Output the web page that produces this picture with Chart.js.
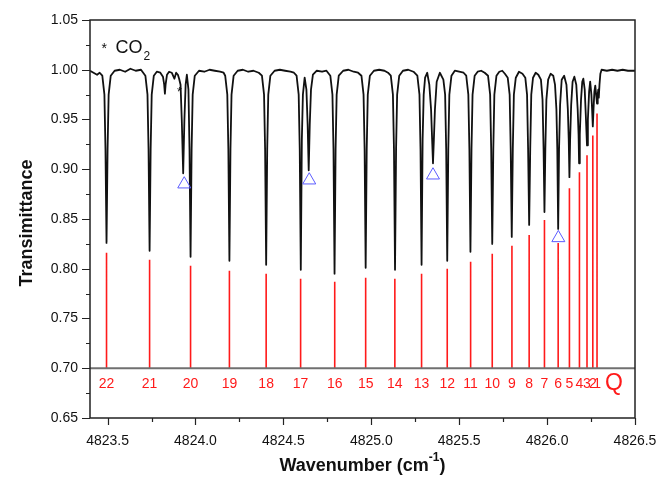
<!DOCTYPE html>
<html lang="en">
<head>
<meta charset="UTF-8">
<title>Transimittance spectrum</title>
<script src="https://cdn.jsdelivr.net/npm/chart.js@4.4.0/dist/chart.umd.min.js"></script>
<style>
  html, body { margin: 0; padding: 0; background: #fff; }
  #wrap { width: 661px; height: 483px; }
</style>
</head>
<body>
<div id="wrap"><canvas id="spec"></canvas></div>
<script>
var specX = [
  4823.400, 4823.420, 4823.440, 4823.455,
  4823.470, 4823.482, 4823.488, 4823.494, 4823.500, 4823.506, 4823.518,
  4823.540, 4823.570, 4823.600, 4823.630, 4823.660, 4823.690,
  4823.715, 4823.727, 4823.733, 4823.739, 4823.745, 4823.751, 4823.763,
  4823.780, 4823.800,
  4823.815, 4823.822, 4823.826, 4823.830, 4823.838,
  4823.850, 4823.865, 4823.880, 4823.890, 4823.900, 4823.907,
  4823.915, 4823.922, 4823.930, 4823.937, 4823.944, 4823.951,
  4823.960, 4823.966, 4823.972, 4823.978, 4823.984, 4823.996,
  4824.020, 4824.050, 4824.080, 4824.110, 4824.140, 4824.160,
  4824.169, 4824.181, 4824.187, 4824.193, 4824.199, 4824.205, 4824.217,
  4824.240, 4824.270, 4824.300, 4824.330, 4824.360,
  4824.378, 4824.390, 4824.396, 4824.402, 4824.408, 4824.414, 4824.426,
  4824.450, 4824.480, 4824.510, 4824.540, 4824.560,
  4824.575, 4824.587, 4824.593, 4824.599, 4824.605, 4824.611, 4824.621,
  4824.631, 4824.638, 4824.644, 4824.650, 4824.657, 4824.668,
  4824.690, 4824.720, 4824.745,
  4824.767, 4824.779, 4824.785, 4824.791, 4824.797, 4824.803, 4824.815,
  4824.840, 4824.870, 4824.900, 4824.925,
  4824.944, 4824.956, 4824.962, 4824.968, 4824.974, 4824.980, 4824.992,
  4825.015, 4825.045, 4825.075, 4825.095,
  4825.111, 4825.123, 4825.129, 4825.135, 4825.141, 4825.147, 4825.159,
  4825.180, 4825.210, 4825.240,
  4825.262, 4825.274, 4825.280, 4825.286, 4825.292, 4825.298, 4825.306,
  4825.318, 4825.330, 4825.340, 4825.346, 4825.351, 4825.356, 4825.362, 4825.372,
  4825.390, 4825.410, 4825.420, 4825.426, 4825.432, 4825.438, 4825.444, 4825.456,
  4825.475, 4825.500, 4825.525,
  4825.540, 4825.552, 4825.558, 4825.564, 4825.570, 4825.576, 4825.588,
  4825.605, 4825.625, 4825.645,
  4825.664, 4825.676, 4825.682, 4825.688, 4825.694, 4825.700, 4825.712,
  4825.728, 4825.745, 4825.760,
  4825.776, 4825.787, 4825.793, 4825.799, 4825.805, 4825.811, 4825.822,
  4825.840, 4825.860,
  4825.876, 4825.886, 4825.892, 4825.898, 4825.904, 4825.910, 4825.920,
  4825.935, 4825.950,
  4825.965, 4825.974, 4825.980, 4825.985, 4825.990, 4825.996, 4826.006,
  4826.020, 4826.035,
  4826.045, 4826.053, 4826.058, 4826.063, 4826.068, 4826.074, 4826.083,
  4826.097,
  4826.110, 4826.118, 4826.123, 4826.127, 4826.131, 4826.137, 4826.145,
  4826.155,
  4826.166, 4826.174, 4826.179, 4826.182, 4826.186, 4826.193, 4826.200,
  4826.206,
  4826.214, 4826.220, 4826.227, 4826.232, 4826.239,
  4826.245,
  4826.252, 4826.256, 4826.260, 4826.264, 4826.269,
  4826.274,
  4826.279, 4826.284, 4826.288, 4826.291, 4826.294, 4826.298, 4826.303, 4826.310,
  4826.340, 4826.370, 4826.400, 4826.430, 4826.460, 4826.500
];
var specT = [
  0.999, 0.997, 0.995, 0.997,
  0.994, 0.975, 0.920, 0.826, 0.920, 0.975, 0.994,
  0.999, 1.000, 0.998, 1.001, 0.999, 1.000,
  0.994, 0.975, 0.920, 0.818, 0.920, 0.975, 0.994,
  0.998, 0.997,
  0.993, 0.985, 0.976, 0.985, 0.995,
  0.998, 0.997, 0.991, 0.997, 0.995, 0.991,
  0.985, 0.950, 0.896, 0.950, 0.985, 0.995,
  0.980, 0.920, 0.812, 0.920, 0.975, 0.994,
  0.999, 0.998, 1.000, 0.999, 0.998, 0.997,
  0.994, 0.975, 0.920, 0.808, 0.920, 0.975, 0.994,
  0.999, 1.000, 0.998, 0.999, 0.997,
  0.994, 0.975, 0.920, 0.804, 0.920, 0.975, 0.994,
  0.999, 1.000, 0.999, 0.998, 0.997,
  0.994, 0.975, 0.920, 0.799, 0.930, 0.975, 0.992,
  0.980, 0.945, 0.899, 0.945, 0.980, 0.995,
  0.999, 0.998, 0.999,
  0.994, 0.975, 0.920, 0.795, 0.920, 0.975, 0.994,
  0.999, 1.000, 0.998, 0.997,
  0.994, 0.975, 0.920, 0.801, 0.920, 0.975, 0.994,
  0.999, 1.000, 0.999, 0.997,
  0.994, 0.975, 0.920, 0.799, 0.920, 0.975, 0.994,
  0.999, 1.000, 0.998,
  0.994, 0.975, 0.920, 0.804, 0.930, 0.975, 0.992,
  0.997, 0.985, 0.960, 0.930, 0.906, 0.930, 0.960, 0.988,
  0.997, 0.990, 0.975, 0.920, 0.808, 0.920, 0.975, 0.994,
  0.999, 0.998, 0.997,
  0.994, 0.975, 0.920, 0.817, 0.920, 0.975, 0.994,
  0.998, 0.999, 0.997,
  0.994, 0.975, 0.920, 0.825, 0.920, 0.975, 0.994,
  0.998, 0.999, 0.996,
  0.992, 0.975, 0.920, 0.832, 0.920, 0.975, 0.992,
  0.998, 0.996,
  0.992, 0.975, 0.920, 0.844, 0.920, 0.975, 0.992,
  0.997, 0.995,
  0.990, 0.970, 0.920, 0.857, 0.920, 0.970, 0.990,
  0.996, 0.994,
  0.985, 0.960, 0.920, 0.840, 0.920, 0.965, 0.990,
  0.994,
  0.985, 0.960, 0.930, 0.892, 0.930, 0.965, 0.988,
  0.993,
  0.985, 0.960, 0.935, 0.906, 0.935, 0.970, 0.988,
  0.991,
  0.980, 0.955, 0.924, 0.950, 0.978,
  0.988,
  0.975, 0.960, 0.943, 0.960, 0.978,
  0.984,
  0.975, 0.966, 0.975, 0.980, 0.972, 0.985, 0.996, 1.000,
  0.999, 1.000, 0.999, 1.000, 0.999, 0.999
];

// stick spectrum (line positions and intensities)
var stickLabels = ['22','21','20','19','18','17','16','15','14','13','12','11','10','9','8','7','6','5','4','3','2','1'];
var stickX = [4823.494, 4823.739, 4823.972, 4824.193, 4824.402, 4824.598, 4824.792, 4824.968,
              4825.134, 4825.286, 4825.432, 4825.565, 4825.688, 4825.800, 4825.898, 4825.985,
              4826.063, 4826.127, 4826.184, 4826.227, 4826.260, 4826.284];
var stickT = [0.816, 0.809, 0.803, 0.798, 0.795, 0.790, 0.787, 0.791,
              0.790, 0.795, 0.800, 0.807, 0.815, 0.823, 0.834, 0.849,
              0.826, 0.881, 0.897, 0.914, 0.934, 0.956];
var stickBase = 0.70;

// marked (blended) lines
var triX = [4823.936, 4824.647, 4825.351, 4826.064];
var triT = [0.885, 0.889, 0.894, 0.831];

var xMin = 4823.4, xMax = 4826.5;
var yMin = 0.65, yMax = 1.05;

var FONT = '"Liberation Sans", Arial, sans-serif';

var stickData = [];
for (var i = 0; i < stickX.length; i++) {
    stickData.push({x: stickX[i], y: stickBase});
    stickData.push({x: stickX[i], y: stickT[i]});
    stickData.push({x: stickX[i], y: null});
}

function isStep(v, step) {
    var k = v / step;
    return Math.abs(k - Math.round(k)) < 1e-6;
}

var decor = {
    id: 'decor',
    afterDraw: function(chart) {
        var c = chart.ctx, a = chart.chartArea;
        var xs = chart.scales.x, ys = chart.scales.y;
        c.save();

        // frame
        c.strokeStyle = '#222';
        c.lineWidth = 1.5;
        c.strokeRect(a.left, a.top, a.right - a.left, a.bottom - a.top);

        // tick marks
        c.lineWidth = 1.2;
        c.beginPath();
        for (var v = 4823.5; v <= xMax + 1e-9; v += 0.25) {
            var px = Math.round(xs.getPixelForValue(v)) + 0.5;
            var len = isStep(v, 0.5) ? 7 : 4;
            c.moveTo(px, a.bottom);
            c.lineTo(px, a.bottom + len);
        }
        for (var w = yMin; w <= yMax + 1e-9; w += 0.025) {
            var py = Math.round(ys.getPixelForValue(w)) + 0.5;
            var l2 = isStep(w, 0.05) ? 8 : 4;
            c.moveTo(a.left, py);
            c.lineTo(a.left - l2, py);
        }
        c.stroke();

        // stick labels
        c.fillStyle = '#ff1a1a';
        c.textAlign = 'center';
        c.textBaseline = 'middle';
        c.font = '14px ' + FONT;
        var ly = ys.getPixelForValue(0.684);
        for (var j = 0; j < stickX.length; j++) {
            c.fillText(stickLabels[j], xs.getPixelForValue(stickX[j]), ly);
        }
        c.font = '23px ' + FONT;
        c.fillText('Q', xs.getPixelForValue(4826.38), ly - 1);

        // CO2 annotation
        c.fillStyle = '#111';
        c.textAlign = 'left';
        c.font = '14px ' + FONT;
        c.fillText('*', xs.getPixelForValue(4823.465), ys.getPixelForValue(1.021));
        c.font = '18px ' + FONT;
        var cx = xs.getPixelForValue(4823.545);
        var cy = ys.getPixelForValue(1.022);
        c.fillText('CO', cx, cy);
        var cw = c.measureText('CO').width;
        c.font = '12px ' + FONT;
        c.fillText('2', cx + cw + 1, cy + 9);
        c.font = '13px ' + FONT;
        c.fillText('*', xs.getPixelForValue(4823.895), ys.getPixelForValue(0.977));

        // axis titles
        c.font = 'bold 18px ' + FONT;
        c.textAlign = 'center';
        c.save();
        c.translate(27, (a.top + a.bottom) / 2 + 4);
        c.rotate(-Math.PI / 2);
        c.fillText('Transimittance', 0, 0);
        c.restore();

        var t1 = 'Wavenumber (cm', t2 = '-1', t3 = ')';
        c.font = 'bold 18px ' + FONT;
        var w1 = c.measureText(t1).width, w3 = c.measureText(t3).width;
        c.font = 'bold 12px ' + FONT;
        var w2 = c.measureText(t2).width;
        var tx = (a.left + a.right) / 2 - (w1 + w2 + w3) / 2;
        var ty = 466;
        c.textAlign = 'left';
        c.font = 'bold 18px ' + FONT;
        c.fillText(t1, tx, ty);
        c.font = 'bold 12px ' + FONT;
        c.fillText(t2, tx + w1, ty - 8);
        c.font = 'bold 18px ' + FONT;
        c.fillText(t3, tx + w1 + w2, ty);

        c.restore();
    }
};

var chart = new Chart(document.getElementById('spec'), {
    type: 'line',
    data: {
        datasets: [{
            data: specX.map(function(x, i) { return {x: x, y: specT[i]}; }),
            borderColor: '#111',
            borderWidth: 1.8,
            borderJoinStyle: 'round',
            pointRadius: 0,
            tension: 0,
            order: 2
        }, {
            data: stickData,
            borderColor: '#ff1a1a',
            borderWidth: 1.6,
            pointRadius: 0,
            spanGaps: false,
            order: 4
        }, {
            data: [{x: xMin, y: stickBase}, {x: xMax, y: stickBase}],
            borderColor: '#707070',
            borderWidth: 2,
            pointRadius: 0,
            order: 3
        }, {
            type: 'scatter',
            data: triX.map(function(x, i) { return {x: x, y: triT[i]}; }),
            pointStyle: 'triangle',
            pointRadius: 7.5,
            borderColor: '#5b5bff',
            backgroundColor: 'rgba(0,0,0,0)',
            borderWidth: 1,
            showLine: false,
            order: 1
        }]
    },
    options: {
        responsive: true,
        maintainAspectRatio: false,
        animation: false,
        layout: { padding: { top: 20, right: 26, left: 0, bottom: 0 } },
        plugins: { legend: { display: false }, tooltip: { enabled: false } },
        scales: {
            x: {
                type: 'linear',
                min: xMin, max: xMax,
                grid: { display: false, drawTicks: false },
                border: { display: false },
                ticks: {
                    stepSize: 0.25,
                    includeBounds: false,
                    autoSkip: false,
                    maxRotation: 0,
                    padding: 15,
                    color: '#111',
                    font: { family: FONT, size: 14 },
                    callback: function(v) { return isStep(v, 0.5) ? v.toFixed(1) : ''; }
                },
                afterFit: function(s) { s.height = 65; s.paddingLeft = 0; s.paddingRight = 0; }
            },
            y: {
                min: yMin, max: yMax,
                grid: { display: false, drawTicks: false },
                border: { display: false },
                ticks: {
                    stepSize: 0.025,
                    autoSkip: false,
                    padding: 12,
                    color: '#111',
                    font: { family: FONT, size: 14 },
                    callback: function(v) { return isStep(v, 0.05) ? v.toFixed(2) : ''; }
                },
                afterFit: function(s) { s.width = 90; s.paddingTop = 0; s.paddingBottom = 0; }
            }
        }
    },
    plugins: [decor]
});
</script>
</body>
</html>
